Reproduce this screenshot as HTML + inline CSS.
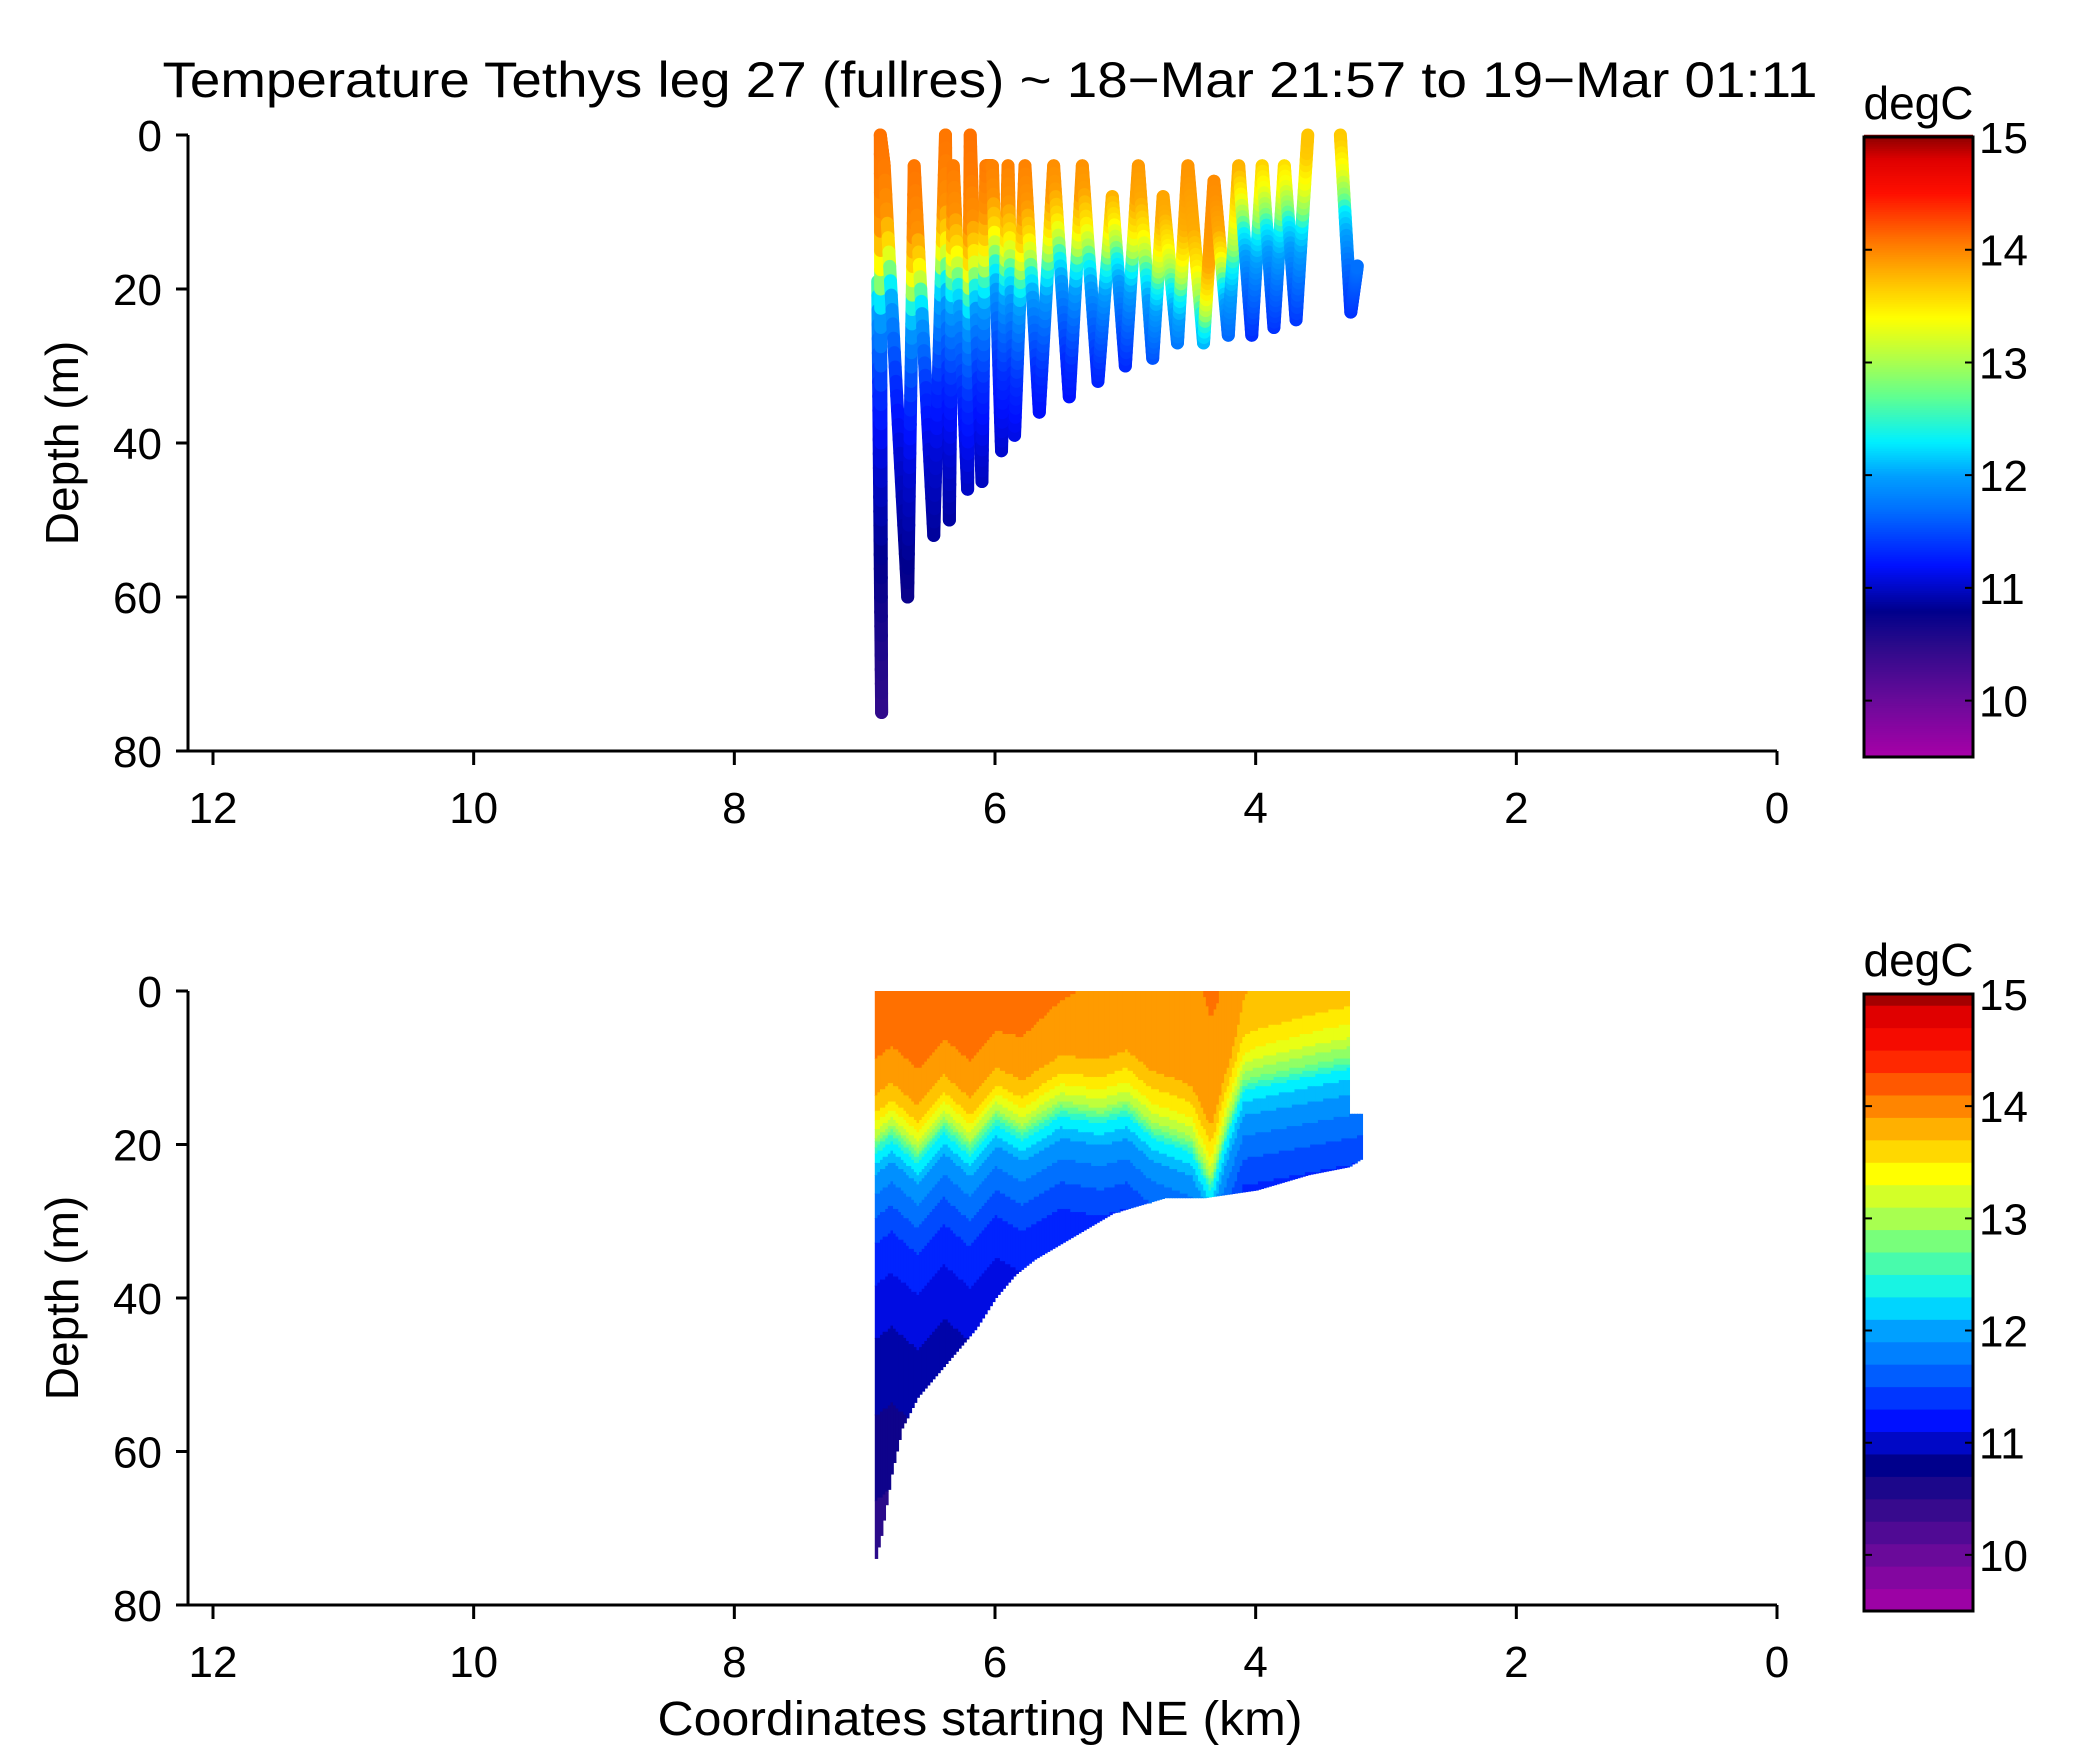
<!DOCTYPE html>
<html><head><meta charset="utf-8">
<style>
html,body{margin:0;padding:0;background:#fff;}
svg{display:block;font-family:"Liberation Sans",sans-serif;}
</style></head>
<body>
<svg id="fig" width="2091" height="1749" viewBox="0 0 2091 1749">
<text x="990" y="97" font-size="50" text-anchor="middle" textLength="1655" lengthAdjust="spacingAndGlyphs">Temperature Tethys leg 27 (fullres) ~ 18−Mar 21:57 to 19−Mar 01:11</text>
<g id="top"></g>
<g id="bot"></g>
<text x="980" y="1735" font-size="48" text-anchor="middle" textLength="645" lengthAdjust="spacingAndGlyphs">Coordinates starting NE (km)</text>
</svg>
<script>
// ---- data ----
const profileKm =    [6.90,6.87,6.88,6.85,6.67,6.62,6.47,6.38,6.35,6.32,6.21,6.19,6.10,6.07,6.02,5.95,5.90,5.85,5.77,5.66,5.55,5.43,5.33,5.21,5.10,5.00,4.90,4.79,4.71,4.60,4.52,4.40,4.32,4.21,4.13,4.03,3.95,3.86,3.78,3.69,3.60,null,3.35,3.27,3.22];
const profileDepth = [19,  75,  0,   4,   60,  4,   52,  0,   50,  4,   46,  0,   45,  4,   4,   41,  4,   39,  4,   36,  4,   34,  4,   32,  8,   30,  4,   29,  8,   27,  4,   27,  6,   26,  4,   26,  4,   25,  4,   24,  0,   null,0,   23,  17];
const tcKm =    [6.95,6.8,6.6,6.4,6.2,6.0,5.8,5.5,5.2,5.0,4.8,4.5,4.35,4.25,4.1,3.8,3.5,3.2];
const tcDepth = [18,  16, 19, 15, 18, 14, 16, 13, 14, 13, 16, 18, 23,  17,  10,  9,   8,  7];
const offKm = [6.95,6.0,5.0,4.6,4.3,4.0,3.5,3.2];
const offT =  [0.1, 0.1,0.0,-0.05,0.0,-0.15,-0.2,-0.2];
const zRel = [-25,-12,-6,-2, 1,  3,   6,   10,  16,  25,  40,  60];
const tRel = [14.05,13.95,13.85,13.5,13.0,12.4,12.0,11.7,11.35,11.05,10.75,10.4];
const gridBottomKm =    [6.92,6.88,6.8,6.72,6.6,6.45,6.3,6.15,6.0,5.85,5.7,5.5,5.3,5.1,4.9,4.7,4.4,4.0,3.6,3.3,3.2];
const gridBottomDepth = [74,  71,  63, 57,  53, 50,  47, 44,  40, 37,  35, 33, 31, 29, 28, 27, 27, 26, 24, 23, 22];
const xTicks = [12,10,8,6,4,2,0];
const yTicks = [0,20,40,60,80];
const cbTicks = [10,11,12,13,14,15];
const cmapT = [9.5,10.0,10.5,10.8,11.2,11.7,12.0,12.3,12.7,13.0,13.4,13.8,14.1,14.5,14.8,15.0];
const cmapC = ['#a800a8','#6a0a9a','#2a0a8a','#00008c','#0010ff','#0070ff','#00a0ff','#00f0ff','#60ff90','#a8ff50','#ffff00','#ffb000','#ff7000','#ff1000','#e00000','#900000'];

const NS='http://www.w3.org/2000/svg';
function el(tag, attrs, parent){const e=document.createElementNS(NS,tag);for(const k in attrs)e.setAttribute(k,attrs[k]);parent.appendChild(e);return e;}
function interp(xs,ys,x){if(x<=xs[0])return ys[0];for(let i=1;i<xs.length;i++){if(x<=xs[i]){const t=(x-xs[i-1])/(xs[i]-xs[i-1]);return ys[i-1]+t*(ys[i]-ys[i-1]);}}return ys[ys.length-1];}
function interpDesc(xs,ys,x){return interp(xs.slice().reverse(),ys.slice().reverse(),x);}
function hex(c){return [parseInt(c.slice(1,3),16),parseInt(c.slice(3,5),16),parseInt(c.slice(5,7),16)];}
function color(T){if(T<=cmapT[0])return cmapC[0];for(let i=1;i<cmapT.length;i++){if(T<=cmapT[i]){const t=(T-cmapT[i-1])/(cmapT[i]-cmapT[i-1]);const a=hex(cmapC[i-1]),b=hex(cmapC[i]);return 'rgb('+a.map((v,j)=>Math.round(v+t*(b[j]-v))).join(',')+')';}}return cmapC[cmapC.length-1];}
function temp(km,d){const tc=interpDesc(tcKm,tcDepth,km);const z=d-tc;const o=interpDesc(offKm,offT,km)*(z<0?1:Math.max(0,1-z/6));return interp(zRel,tRel,z)+o;}

const X0=188,X1=1777;
function xs(km){return 1777-km*(1777-213)/12;}
function panel(g,yTop,yBot,cbTop,cbBot,filled){
  const ys=d=>yTop+d*(yBot-yTop)/80;
  if(!filled){
    for(let i=1;i<profileKm.length;i++){
      if(profileKm[i]===null||profileKm[i-1]===null)continue;
      const n=30;
      for(let s=0;s<n;s++){
        const k0=profileKm[i-1]+(profileKm[i]-profileKm[i-1])*s/n, k1=profileKm[i-1]+(profileKm[i]-profileKm[i-1])*(s+1)/n;
        const d0=profileDepth[i-1]+(profileDepth[i]-profileDepth[i-1])*s/n, d1=profileDepth[i-1]+(profileDepth[i]-profileDepth[i-1])*(s+1)/n;
        const l=el('line',{x1:xs(k0),y1:ys(d0),x2:xs(k1),y2:ys(d1),stroke:color(temp((k0+k1)/2,(d0+d1)/2)),'stroke-width':13,'stroke-linecap':'round'},g);
        
        
      }
    }
  } else {
    const step=0.02, dstep=0.4, lvl=0.2;
    for(let km=6.92;km>=3.2;km-=step){
      const maxD=interpDesc(gridBottomKm,gridBottomDepth,km);
      const topD = km<3.3?16:0;
      let startD=topD, curL=null;
      for(let d=topD; d<=maxD+1e-6; d+=dstep){
        const L=Math.floor(temp(km,d)/lvl);
        if(curL===null)curL=L;
        if(L!==curL){
          const r=el('rect',{x:xs(km)-0.3,y:ys(startD),width:xs(km-step)-xs(km)+0.8,height:ys(d)-ys(startD)+0.6,fill:color((curL+0.5)*lvl)},g);
          
          
          startD=d;curL=L;
        }
      }
      const r=el('rect',{x:xs(km)-0.3,y:ys(startD),width:xs(km-step)-xs(km)+0.8,height:ys(maxD)-ys(startD),fill:color((curL+0.5)*lvl)},g);
      
      
    }
  }
  const ax=el('path',{d:`M${X0},${yTop}V${yBot}H${X1}`,stroke:'#000','stroke-width':3,fill:'none'},g);
  
  
  xTicks.forEach(v=>{
    const t=el('line',{x1:xs(v),x2:xs(v),y1:yBot,y2:yBot+14,stroke:'#000','stroke-width':3},g);
    
    
    const lb=el('text',{x:xs(v),y:yBot+72,'font-size':44,'text-anchor':'middle'},g);
    lb.textContent=v;
    
    
  });
  yTicks.forEach(v=>{
    const t=el('line',{x1:X0-12,x2:X0,y1:ys(v),y2:ys(v),stroke:'#000','stroke-width':3},g);
    
    
    const lb=el('text',{x:X0-26,y:ys(v)+16,'font-size':44,'text-anchor':'end'},g);
    lb.textContent=v;
    
    
  });
  const yl=el('text',{x:0,y:0,'font-size':46,'text-anchor':'middle',transform:`translate(78,${(yTop+yBot)/2}) rotate(-90)`},g);
  yl.textContent='Depth (m)';
  
  
  const cx0=1864,cx1=1973;
  const cy=T=>cbTop+(15-T)*(cbBot-cbTop)/5.5;
  if(!filled){
    for(let T=9.5;T<15;T+=0.02){
      const r=el('rect',{x:cx0,y:cy(T+0.02),width:cx1-cx0,height:cy(T)-cy(T+0.02)+0.6,fill:color(T+0.01)},g);
      
      
    }
  } else {
    for(let k=0;k<27.5;k++){
      const T=9.5+k*0.2, T2=Math.min(15,T+0.2);
      const r=el('rect',{x:cx0,y:cy(T2),width:cx1-cx0,height:cy(T)-cy(T2)+0.5,fill:color((T+T2)/2)},g);
      
      
    }
  }
  const cb=el('rect',{x:cx0,y:cbTop,width:cx1-cx0,height:cbBot-cbTop,fill:'none',stroke:'#000','stroke-width':3},g);
  
  
  cbTicks.forEach(v=>{
    const t=el('path',{d:`M${cx0},${cy(v)}h8M${cx1},${cy(v)}h-8`,stroke:'#000','stroke-width':2},g);
    
    
    const lb=el('text',{x:cx1+6,y:cy(v)+16,'font-size':44},g);
    lb.textContent=v;
    
    
  });
  const u=el('text',{x:(cx0+cx1)/2,y:cbTop-18,'font-size':46,'text-anchor':'middle'},g);
  u.textContent='degC';
  
  
}
panel(document.getElementById('top'),135,751,137,757,false);
panel(document.getElementById('bot'),991,1605,994,1611,true);
</script>
</body></html>
